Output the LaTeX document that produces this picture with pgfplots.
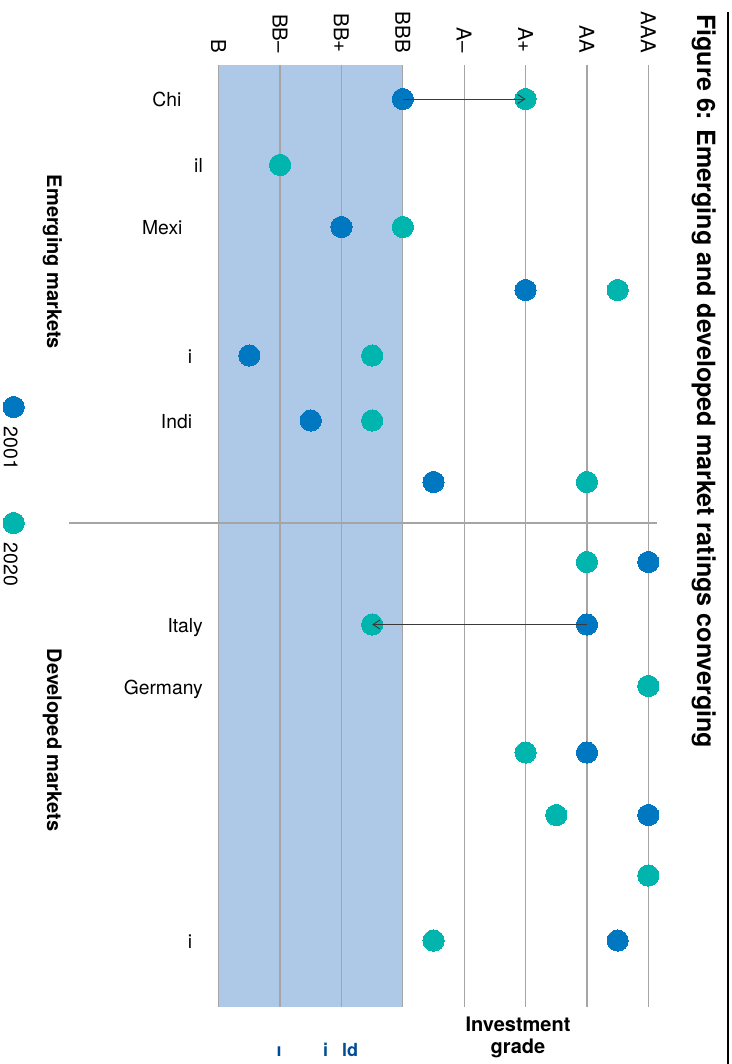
\documentclass[border=0pt]{standalone}
\usepackage{fontspec}
\setmainfont{TeX Gyre Heros}
\usepackage{pgfplots}
\usepackage{pgfplotstable}
\pgfplotsset{compat=1.18}
\usetikzlibrary{arrows.meta}

\definecolor{dotold}{HTML}{0077C1}
\definecolor{dotnew}{HTML}{00B5AD}
\definecolor{hyshade}{HTML}{AEC8E8}
\definecolor{gridgray}{HTML}{A5A5A5}
\definecolor{hytext}{HTML}{004B93}
\definecolor{arrowgray}{HTML}{3A3A3A}

\newcommand\titlefont{\fontsize{25.1pt}{29pt}\selectfont\bfseries}
\newcommand\ticksize{\fontsize{20.5pt}{24pt}\selectfont}
\newcommand\countrysize{\fontsize{19.3pt}{23pt}\selectfont}
\newcommand\sectionfont{\fontsize{20pt}{24pt}\selectfont\bfseries}
\newcommand\legendsize{\fontsize{19.5pt}{23pt}\selectfont}
\newcommand\gradefont{\fontsize{20pt}{24pt}\selectfont\bfseries}
\newcommand\hyfont{\fontsize{18pt}{22pt}\selectfont\bfseries}

% rating notch: 0 = B, 1 = B+, 2 = BB-, ... , 14 = AAA; row = vertical position
\pgfplotstableread{
rating row
6  99
2  165
4  227
10 290
1  355.5
3  420.5
7  482
14 562
12 624.5
14 686
12 752.5
14 815
14 875.5
13 940.5
}\ratingsold

\pgfplotstableread{
rating row
10 99
2  165
6  227
13 290
5  355.5
5  420.5
12 482
12 562
5  624.5
14 686
10 752.5
11 815
14 875.5
7  940.5
}\ratingsnew

\pgfplotsset{
  olddot/.style={only marks, mark=*, mark size=10.6pt,
    mark options={draw=dotold, fill=dotold, line width=0pt}},
  newdot/.style={only marks, mark=*, mark size=10.6pt,
    mark options={draw=dotnew, fill=dotnew, line width=0pt}},
}

\begin{document}
\begin{tikzpicture}
\begin{axis}[
  set layers,
  at={(218.7pt,-65pt)}, anchor=north west,
  scale only axis, width=429.6pt, height=942pt,
  xmin=0, xmax=14, ymin=65, ymax=1007, y dir=reverse,
  enlargelimits=false, clip=false,
  axis line style={draw=none},
  major tick length=0pt,
  xtick={0,2,...,14},
  xticklabels={B, BB–, BB+, BBB, A–, A+, AA, AAA},
  xticklabel pos=right,
  xticklabel style={rotate=-90, anchor=east, inner sep=0pt, font=\ticksize},
  xticklabel shift=12pt,
  xmajorgrids, grid style={gridgray, line width=1.2pt},
  ytick={99,165,227,355.5,420.5,624.5,686,940.5},
  yticklabels={Chi\phantom{na}, il, Mexi\phantom{co}, i\phantom{a}, Indi\phantom{a}, Italy, Germany, i\phantom{n}},
  yticklabel style={anchor=base east, inner sep=0pt, xshift=-15.7pt, yshift=-8pt, font=\countrysize},
]
\begin{pgfonlayer}{axis background}
  \fill[hyshade] (axis cs:0,65) rectangle (axis cs:6,1007);
\end{pgfonlayer}

\addplot[olddot] table[x=rating, y=row]{\ratingsold};
\addplot[newdot] table[x=rating, y=row]{\ratingsnew};

% key dots, set vertically at the left margin
\addplot[olddot, forget plot] coordinates {(-6.681,407)};
\addplot[newdot, forget plot] coordinates {(-6.681,523)};

% moves highlighted with arrows
\begin{pgfonlayer}{axis foreground}
\draw[arrowgray, line width=0.9pt, -{Straight Barb[length=7pt, width=9pt]}]
  (axis cs:6,99) -- (axis cs:10,99);
\draw[arrowgray, line width=0.9pt, -{Straight Barb[length=7pt, width=9pt]}]
  (axis cs:12,624.5) -- (axis cs:5,624.5);
\end{pgfonlayer}
\end{axis}

% key labels
\node[rotate=-90, anchor=base west, inner sep=0pt, font=\legendsize]
  at (3.8pt,-426.7pt) {2001};
\node[rotate=-90, anchor=base west, inner sep=0pt, font=\legendsize]
  at (3.8pt,-542.6pt) {2020};

% title and rules
\node[rotate=-90, anchor=base west, inner sep=0pt, font=\titlefont]
  at (697pt,-14pt) {Figure 6: Emerging and developed market ratings converging};
\draw[black, line width=1.4pt] (728pt,-12pt) -- (728pt,-1064pt);
\draw[gridgray, line width=1.2pt] (69pt,-523pt) -- (657pt,-523pt);

% group labels
\node[rotate=-90, anchor=base, inner sep=0pt, font=\sectionfont] at (47pt,-262pt) {Emerging markets};
\node[rotate=-90, anchor=base, inner sep=0pt, font=\sectionfont] at (47pt,-740pt) {Developed markets};

% band labels
\node[anchor=base, inner sep=0pt, font=\gradefont] at (518pt,-1031.7pt) {Investment};
\node[anchor=base, inner sep=0pt, font=\gradefont] at (518pt,-1053pt) {grade};
\node[anchor=base, inner sep=0pt, font=\hyfont, text=hytext] at (279pt,-1056.7pt) {\i};
\node[anchor=base, inner sep=0pt, font=\hyfont, text=hytext] at (325.7pt,-1056.7pt) {i};
\node[anchor=base west, inner sep=0pt, font=\hyfont, text=hytext] at (342pt,-1056.7pt) {ld};

\pgfresetboundingbox
\useasboundingbox (0pt,-1064pt) rectangle (731pt,0pt);
\end{tikzpicture}
\end{document}
